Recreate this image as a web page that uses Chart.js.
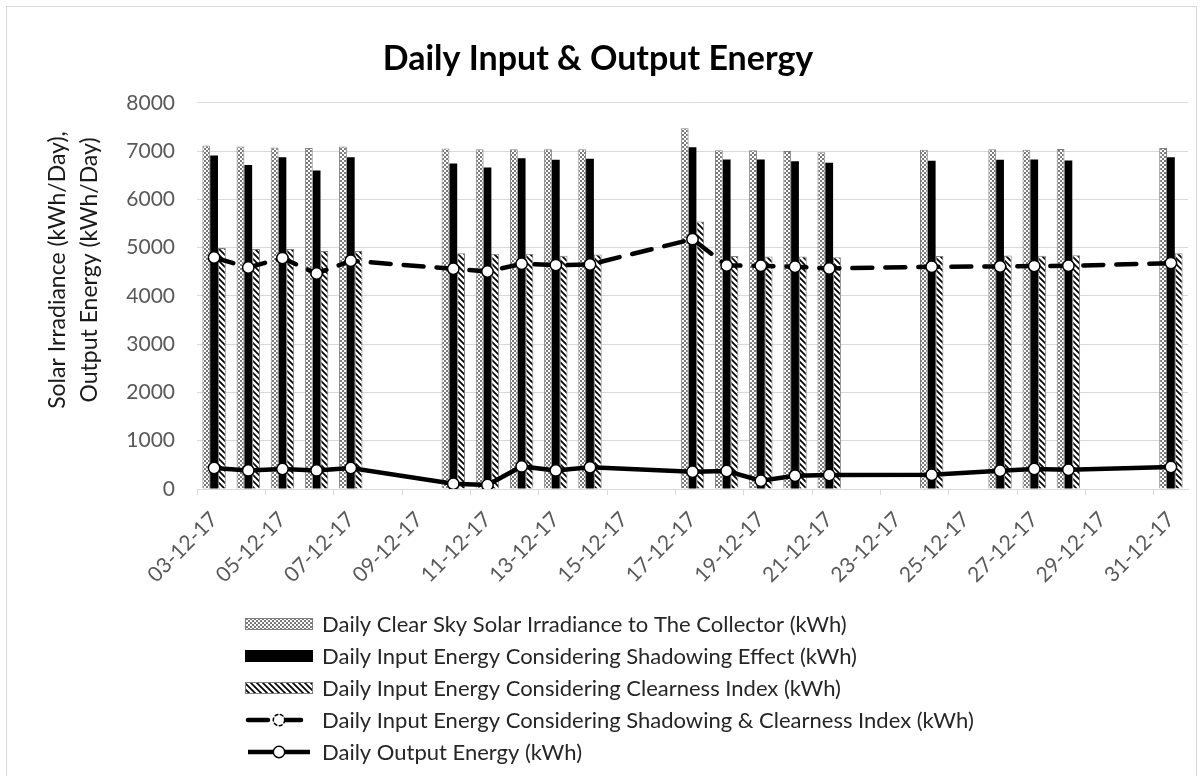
<!DOCTYPE html>
<html>
<head>
<meta charset="utf-8">
<script src="https://cdn.jsdelivr.net/npm/chart.js@4.4.1/dist/chart.umd.min.js"></script>
<style>
  html, body { margin: 0; padding: 0; background: #fff; overflow: hidden; }
  #frame { position: absolute; left: 6px; top: 6px; width: 1189px; height: 780px; border: 1px solid #d9d9d9; }
  #wrap { position: absolute; left: 0; top: 0; width: 1203px; height: 776px; }
</style>
</head>
<body>
<div id="frame"></div>
<div id="wrap"><canvas id="myChart"></canvas></div>
<script>
// one category per day, 03-12-17 .. 31-12-17 (null = no measurement)
const labels = [
  "03-12-17", "04-12-17", "05-12-17", "06-12-17", "07-12-17", "08-12-17", "09-12-17",
  "10-12-17", "11-12-17", "12-12-17", "13-12-17", "14-12-17", "15-12-17", "16-12-17",
  "17-12-17", "18-12-17", "19-12-17", "20-12-17", "21-12-17", "22-12-17", "23-12-17",
  "24-12-17", "25-12-17", "26-12-17", "27-12-17", "28-12-17", "29-12-17", "30-12-17",
  "31-12-17",
];
const clearSky = [
  7114, 7093, 7072, 7066, 7093, null, null,
  7052, 7039, 7039, 7039, 7039, null, null,
  7474, 7018, 7018, 7004, 6977, null, null,
  7025, null, 7039, 7025, 7045, null, null,
  7066,
];
const shadowing = [
  6907, 6714, 6874, 6596, 6874, null, null,
  6741, 6659, 6853, 6818, 6839, null, null,
  7081, 6825, 6825, 6791, 6756, null, null,
  6797, null, 6818, 6825, 6804, null, null,
  6874,
];
const clearness = [
  4990, 4969, 4969, 4928, 4928, null, null,
  4886, 4872, 4872, 4831, 4858, null, null,
  5540, 4824, 4817, 4817, 4803, null, null,
  4824, null, 4837, 4831, 4844, null, null,
  4886,
];
const shadowClear = [
  4795, 4588, 4783, 4464, 4727, null, null,
  4561, 4505, 4665, 4638, 4651, null, null,
  5176, 4630, 4623, 4603, 4568, null, null,
  4603, null, 4610, 4617, 4623, null, null,
  4679,
];
const output = [
  435, 385, 414, 385, 435, null, null,
  110, 83, 468, 385, 448, null, null,
  358, 372, 172, 276, 290, null, null,
  296, null, 379, 414, 400, null, null,
  455,
];
const seriesNames = [
  "Daily Clear Sky Solar Irradiance to The Collector (kWh)",
  "Daily Input Energy Considering Shadowing Effect (kWh)",
  "Daily Input Energy Considering Clearness Index (kWh)",
  "Daily Input Energy Considering Shadowing & Clearness Index (kWh)",
  "Daily Output Energy (kWh)",
];
const yTitle = ["Solar Irradiance (kWh/Day),", "Output Energy (kWh/Day)"];

// fill patterns for the bars
function makePattern(kind) {
  const c = document.createElement("canvas");
  const g = c.getContext("2d");
  if (kind === "check") {
    c.width = 4;
    c.height = 4;
    g.fillStyle = "#ffffff";
    g.fillRect(0, 0, 4, 4);
    g.fillStyle = "#7a7a7a";
    g.fillRect(0, 0, 2, 2);
    g.fillRect(2, 2, 2, 2);
  } else {
    c.width = 6;
    c.height = 6;
    g.fillStyle = "#ffffff";
    g.fillRect(0, 0, 6, 6);
    g.strokeStyle = "#000000";
    g.lineWidth = 1.7;
    g.beginPath();
    g.moveTo(-1, -1);
    g.lineTo(7, 7);
    g.moveTo(-1, 5);
    g.lineTo(1, 7);
    g.moveTo(5, -1);
    g.lineTo(7, 1);
    g.stroke();
  }
  return g.createPattern(c, "repeat");
}
const checkFill = makePattern("check");
const hatchFill = makePattern("hatch");

// legend as one left-aligned column, plus the two-line y title (sits above plot centre)
const extras = {
  id: "extras",
  afterDraw(chart) {
    const c = chart.ctx;
    c.save();
    c.font = "22px Lato";
    c.textBaseline = "middle";
    c.textAlign = "left";
    chart.data.datasets.forEach((ds, i) => {
      const y = 624 + i * 32;
      const x0 = 245, x1 = 313;
      if (ds.type === "line") {
        c.strokeStyle = ds.borderColor;
        c.lineWidth = ds.borderWidth;
        c.lineCap = ds.borderCapStyle || "butt";
        c.setLineDash(ds.borderDash || []);
        c.beginPath();
        c.moveTo(x0 + 3, y);
        c.lineTo(x1 - 3, y);
        c.stroke();
        c.setLineDash(ds.borderDash ? [3, 2.5] : []);
        c.lineWidth = ds.pointBorderWidth;
        c.fillStyle = "#ffffff";
        c.beginPath();
        c.arc((x0 + x1) / 2, y, ds.pointRadius, 0, Math.PI * 2);
        c.fill();
        c.stroke();
        c.setLineDash([]);
      } else {
        c.fillStyle = ds.backgroundColor;
        c.fillRect(x0, y - 6, x1 - x0, 12);
        if (ds.borderWidth) {
          c.strokeStyle = ds.borderColor;
          c.lineWidth = 1;
          c.strokeRect(x0 + 0.5, y - 5.5, x1 - x0 - 1, 11);
        }
      }
      c.fillStyle = "#262626";
      c.fillText(ds.label, 322, y + 1);
    });

    c.font = "23px Lato";
    c.fillStyle = "#1a1a1a";
    c.textAlign = "center";
    yTitle.forEach((line, i) => {
      c.save();
      c.translate(58 + i * 32, 270);
      c.rotate(-Math.PI / 2);
      c.fillText(line, 0, 0);
      c.restore();
    });
    c.restore();
  },
};

Chart.defaults.font.family = "Lato";

const ctx = document.getElementById("myChart").getContext("2d");
const myChart = new Chart(ctx, {
  type: "bar",
  data: {
    labels: labels,
    datasets: [
      {
        label: seriesNames[0],
        data: clearSky,
        backgroundColor: checkFill,
        borderColor: "#808080",
        borderWidth: 1,
        order: 1,
      },
      {
        label: seriesNames[1],
        data: shadowing,
        backgroundColor: "#000000",
        borderWidth: 0,
        order: 1,
      },
      {
        label: seriesNames[2],
        data: clearness,
        backgroundColor: hatchFill,
        borderColor: "#808080",
        borderWidth: 1,
        order: 1,
      },
      {
        type: "line",
        label: seriesNames[3],
        data: shadowClear,
        borderColor: "#000000",
        borderWidth: 4.5,
        borderDash: [20, 13],
        borderCapStyle: "round",
        pointRadius: 5.7,
        pointBorderWidth: 1.5,
        pointBackgroundColor: "#ffffff",
        pointBorderColor: "#000000",
        spanGaps: true,
        tension: 0,
        order: 0,
      },
      {
        type: "line",
        label: seriesNames[4],
        data: output,
        borderColor: "#000000",
        borderWidth: 4.5,
        pointRadius: 5.7,
        pointBorderWidth: 1.5,
        pointBackgroundColor: "#ffffff",
        pointBorderColor: "#000000",
        spanGaps: true,
        tension: 0,
        order: 0,
      },
    ],
  },
  options: {
    responsive: true,
    maintainAspectRatio: false,
    animation: false,
    categoryPercentage: 0.685,
    barPercentage: 1,
    layout: { padding: { left: 8, right: 15, top: 0, bottom: 0 } },
    plugins: {
      legend: { display: false },
      tooltip: { enabled: false },
      title: {
        display: true,
        text: "Daily Input & Output Energy",
        color: "#000000",
        font: { size: 34, weight: "bold" },
        padding: { top: 39, bottom: 23 },
      },
    },
    scales: {
      x: {
        offset: true,
        grid: {
          offset: true,
          drawOnChartArea: false,
          drawTicks: true,
          tickLength: 6,
          tickColor: (c) => (c.index % 2 === 0 ? "#d9d9d9" : "rgba(0,0,0,0)"),
        },
        border: { color: "#d9d9d9" },
        ticks: {
          autoSkip: false,
          minRotation: 45,
          maxRotation: 45,
          padding: 12,
          color: "#595959",
          font: { size: 21 },
          callback: (v, i) => (i % 2 === 0 ? labels[i] : ""),
        },
        afterFit: (s) => { s.height = 287; },
      },
      y: {
        min: 0,
        max: 8000,
        grid: { color: "#d9d9d9", drawTicks: false },
        border: { display: false },
        ticks: {
          stepSize: 1000,
          padding: 22,
          color: "#595959",
          font: { size: 21 },
          callback: (v) => String(v),
        },
        afterFit: (s) => { s.width = 189; },
      },
    },
  },
  plugins: [extras],
});
</script>
</body>
</html>
